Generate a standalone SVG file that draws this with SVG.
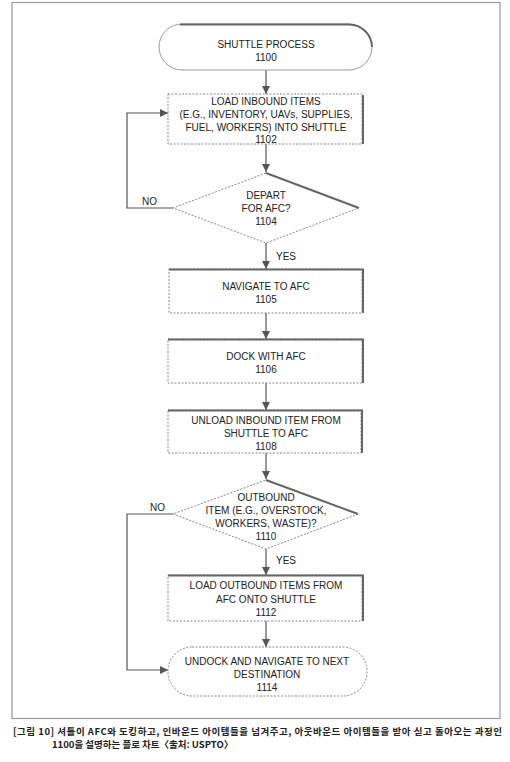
<svg xmlns="http://www.w3.org/2000/svg" width="510" height="762" viewBox="0 0 510 762">
<defs>
<style>
.t{font-family:"Liberation Sans",Arial,sans-serif;font-size:10px;fill:#222;text-anchor:middle}
.lbl{font-family:"Liberation Sans",Arial,sans-serif;font-size:10px;fill:#222}
.box{fill:#fff;stroke:#888;stroke-width:1;stroke-dasharray:2,1.5}
.sh{fill:none;stroke:#666;stroke-width:2}
.con{fill:none;stroke:#555;stroke-width:1.2}
.cap{font-family:"Noto Sans CJK KR","Liberation Sans",sans-serif;font-size:9.5px;font-weight:bold;fill:#222}
</style>
<marker id="ah" viewBox="0 0 10 10" refX="10" refY="5" markerWidth="8" markerHeight="8" markerUnits="userSpaceOnUse" orient="auto">
<path d="M0,0 L10,5 L0,10 Z" fill="#555"/>
</marker>
</defs>
<rect width="510" height="762" fill="#fff"/>
<rect x="12" y="2.5" width="488" height="716" fill="none" stroke="#999" stroke-width="1.2"/>

<g id="connectors">
<line class="con" x1="266" y1="70" x2="266" y2="94" marker-end="url(#ah)"/>
<line class="con" x1="266" y1="144" x2="266" y2="172" marker-end="url(#ah)"/>
<polyline class="con" points="173,208 127,208 127,113 168,113" marker-end="url(#ah)"/>
<line class="con" x1="266" y1="243" x2="266" y2="269" marker-end="url(#ah)"/>
<line class="con" x1="266" y1="313" x2="266" y2="339" marker-end="url(#ah)"/>
<line class="con" x1="266" y1="383" x2="266" y2="410" marker-end="url(#ah)"/>
<line class="con" x1="266" y1="453" x2="266" y2="479" marker-end="url(#ah)"/>
<polyline class="con" points="173,514 127,514 127,670 168,670" marker-end="url(#ah)"/>
<line class="con" x1="266" y1="549" x2="266" y2="575" marker-end="url(#ah)"/>
<line class="con" x1="266" y1="621" x2="266" y2="647" marker-end="url(#ah)"/>
<text class="lbl" x="142" y="205">NO</text>
<text class="lbl" x="276" y="260">YES</text>
<text class="lbl" x="150" y="511">NO</text>
<text class="lbl" x="276" y="564">YES</text>
</g>

<g id="n1100">
<rect x="159" y="24" width="213" height="46" rx="23" fill="#fff" stroke="#999" stroke-width="1"/>
<path class="sh" d="M180,24.5 L349,24.5 A23,23 0 0 1 372,47"/>
<text class="t" x="266" y="48">SHUTTLE PROCESS</text>
<text class="t" x="266" y="61">1100</text>
</g>

<g id="n1102">
<rect class="box" x="168" y="94" width="194" height="50"/>
<path class="sh" d="M363,95 L363,144"/>
<text class="t" x="266" y="105">LOAD INBOUND ITEMS</text>
<text class="t" x="266" y="118">(E.G., INVENTORY, UAVs, SUPPLIES,</text>
<text class="t" x="266" y="131">FUEL, WORKERS) INTO SHUTTLE</text>
<text class="t" x="266" y="143">1102</text>
</g>

<g id="n1104">
<polygon class="box" points="266,173 359,208 266,243 173,208"/>
<path class="sh" d="M266,173 L359,208"/>
<text class="t" x="266" y="199">DEPART</text>
<text class="t" x="266" y="212">FOR AFC?</text>
<text class="t" x="266" y="225">1104</text>
</g>

<g id="n1105">
<rect class="box" x="169" y="269" width="193" height="44"/>
<path class="sh" d="M169,269.5 L363,269.5 L363,313"/>
<text class="t" x="266" y="290">NAVIGATE TO AFC</text>
<text class="t" x="266" y="303">1105</text>
</g>

<g id="n1106">
<rect class="box" x="168" y="339" width="194" height="44"/>
<path class="sh" d="M168,339.5 L363,339.5 L363,383"/>
<text class="t" x="266" y="360">DOCK WITH AFC</text>
<text class="t" x="266" y="373">1106</text>
</g>

<g id="n1108">
<rect class="box" x="168" y="410" width="193" height="43"/>
<path class="sh" d="M168,410.5 L362,410.5 L362,453"/>
<text class="t" x="266" y="424">UNLOAD INBOUND ITEM FROM</text>
<text class="t" x="266" y="437">SHUTTLE TO AFC</text>
<text class="t" x="266" y="450">1108</text>
</g>

<g id="n1110">
<polygon class="box" points="266,480 358,514 266,549 173,514"/>
<path class="sh" d="M266,480 L358,514"/>
<text class="t" x="266" y="501">OUTBOUND</text>
<text class="t" x="266" y="514">ITEM (E.G., OVERSTOCK,</text>
<text class="t" x="266" y="527">WORKERS, WASTE)?</text>
<text class="t" x="266" y="540">1110</text>
</g>

<g id="n1112">
<rect class="box" x="168" y="575" width="194" height="46"/>
<path class="sh" d="M168,575.5 L363,575.5 L363,621"/>
<text class="t" x="266" y="589">LOAD OUTBOUND ITEMS FROM</text>
<text class="t" x="266" y="603">AFC ONTO SHUTTLE</text>
<text class="t" x="266" y="616">1112</text>
</g>

<g id="n1114">
<rect class="box" x="168" y="647" width="199" height="49" rx="24"/>
<text class="t" x="267" y="665">UNDOCK AND NAVIGATE TO NEXT</text>
<text class="t" x="267" y="678">DESTINATION</text>
<text class="t" x="267" y="691">1114</text>
</g>

<g id="caption">
<text class="cap" x="13" y="735" textLength="489" lengthAdjust="spacing">[그림 10] 셔틀이 AFC와 도킹하고, 인바운드 아이템들을 넘겨주고, 아웃바운드 아이템들을 받아 싣고 돌아오는 과정인</text>
<text class="cap" x="52" y="748">1100을 설명하는 플로 차트〈출처: USPTO〉</text>
</g>
</svg>
